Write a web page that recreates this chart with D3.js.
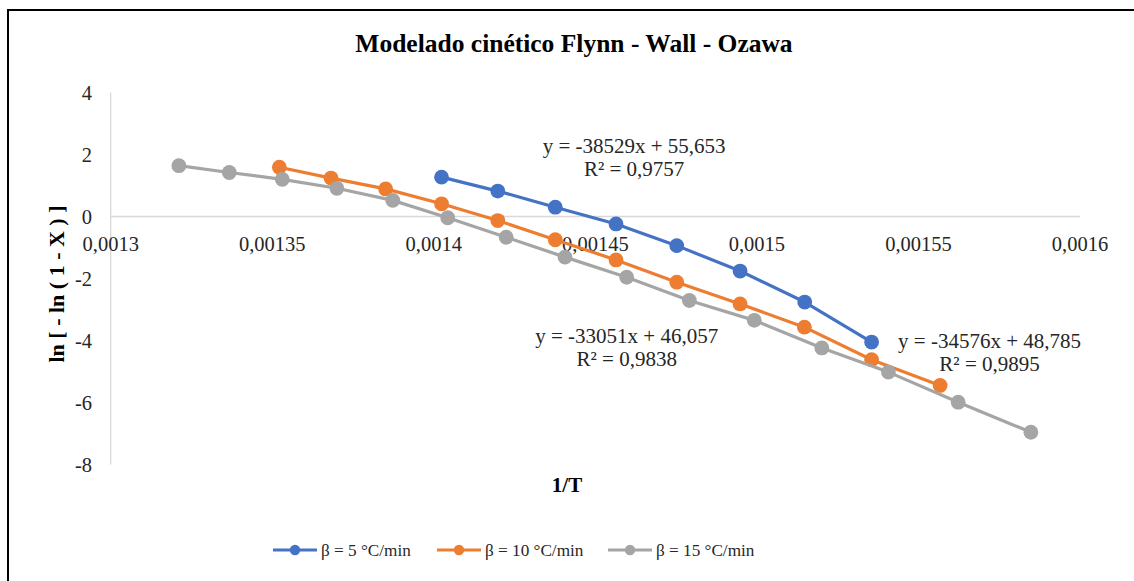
<!DOCTYPE html>
<html>
<head>
<meta charset="utf-8">
<script src="https://cdn.jsdelivr.net/npm/d3@7"></script>
<style>
  body { margin: 0; background: #fff; }
  svg text { font-family: "Liberation Serif", "Times New Roman", serif; }
</style>
</head>
<body>
<svg id="chart" width="1134" height="581"></svg>
<script>
// values
var seriesNames = ["β = 5 °C/min", "β = 10 °C/min", "β = 15 °C/min"];
var seriesColors = ["#4472C4", "#ED7D31", "#A5A5A5"];

var xB5 = [0.0014024, 0.0014198, 0.0014376, 0.0014564, 0.0014752, 0.0014948, 0.0015148, 0.0015355];
var yB5 = [1.27, 0.82, 0.30, -0.24, -0.94, -1.76, -2.76, -4.05];

var xB10 = [0.0013522, 0.0013682, 0.0013851, 0.0014024, 0.0014198, 0.0014376, 0.0014564, 0.0014752, 0.0014948, 0.0015147, 0.0015355, 0.0015567];
var yB10 = [1.59, 1.24, 0.89, 0.41, -0.13, -0.75, -1.40, -2.12, -2.82, -3.57, -4.62, -5.45];

var xB15 = [0.0013211, 0.0013367, 0.0013531, 0.0013700, 0.0013873, 0.0014043, 0.0014224, 0.0014406, 0.0014597, 0.0014791, 0.0014992, 0.0015201, 0.0015407, 0.0015623, 0.0015848];
var yB15 = [1.64, 1.42, 1.20, 0.91, 0.52, -0.04, -0.67, -1.31, -1.96, -2.71, -3.35, -4.24, -5.02, -5.99, -6.96];

var xTicks = [0.0013, 0.00135, 0.0014, 0.00145, 0.0015, 0.00155, 0.0016];
var xTickLabels = ["0,0013", "0,00135", "0,0014", "0,00145", "0,0015", "0,00155", "0,0016"];
var yTicks = [4, 2, 0, -2, -4, -6, -8];

// trendline labels, anchored in data units
var eqText = ["y = -38529x + 55,653", "y = -33051x + 46,057", "y = -34576x + 48,785"];
var r2Text = ["R² = 0,9757", "R² = 0,9838", "R² = 0,9895"];
var eqX = [0.0014620, 0.0014597, 0.0015720];
var eqY = [2.05, -4.08, -4.24];

var svg = d3.select("#chart");

// frame of the pasted chart
svg.append("rect")
    .attr("x", 8)
    .attr("y", 10)
    .attr("width", 1200)
    .attr("height", 700)
    .attr("fill", "none")
    .attr("stroke", "black")
    .attr("stroke-width", 2);

var x = d3.scaleLinear()
    .domain([0.0013, 0.0016])
    .range([110.7, 1080]);

var y = d3.scaleLinear()
    .domain([-8, 4])
    .range([464.5, 92.5]);

svg.append("text")
    .attr("x", 574)
    .attr("y", 52)
    .attr("text-anchor", "middle")
    .attr("font-size", 25.5)
    .attr("font-weight", "bold")
    .text("Modelado cinético Flynn - Wall - Ozawa");

// axis lines
svg.append("line")
    .attr("x1", x(0.0013)).attr("x2", x(0.0013))
    .attr("y1", y(4)).attr("y2", y(-8))
    .attr("stroke", "#D9D9D9")
    .attr("stroke-width", 1.3);

svg.append("line")
    .attr("x1", x(0.0013)).attr("x2", x(0.0016))
    .attr("y1", y(0)).attr("y2", y(0))
    .attr("stroke", "#D9D9D9")
    .attr("stroke-width", 1.3);

svg.append("g")
    .selectAll("text")
    .data(yTicks)
    .enter()
    .append("text")
    .attr("x", 92)
    .attr("y", function(d) { return y(d); })
    .attr("dy", "0.35em")
    .attr("text-anchor", "end")
    .attr("font-size", 20.5)
    .attr("fill", "#262626")
    .text(function(d) { return d; });

svg.append("g")
    .selectAll("text")
    .data(xTicks)
    .enter()
    .append("text")
    .attr("x", function(d) { return x(d); })
    .attr("y", y(0) + 34.5)
    .attr("text-anchor", "middle")
    .attr("font-size", 20.5)
    .attr("fill", "#262626")
    .text(function(d, i) { return xTickLabels[i]; });

svg.append("text")
    .attr("x", 567)
    .attr("y", 492)
    .attr("text-anchor", "middle")
    .attr("font-size", 21)
    .attr("font-weight", "bold")
    .text("1/T");

svg.append("text")
    .attr("transform", "translate(64,284) rotate(-90)")
    .attr("text-anchor", "middle")
    .attr("font-size", 22)
    .attr("font-weight", "bold")
    .text("ln [ - ln ( 1 - X ) ]");

// series
var series = [
    { xs: xB5, ys: yB5 },
    { xs: xB10, ys: yB10 },
    { xs: xB15, ys: yB15 }
];

var line = d3.line()
    .x(function(d) { return x(d[0]); })
    .y(function(d) { return y(d[1]); });

series.forEach(function(s, k) {
    var pts = s.xs.map(function(v, i) { return [v, s.ys[i]]; });
    var g = svg.append("g");
    g.append("path")
        .datum(pts)
        .attr("d", line)
        .attr("fill", "none")
        .attr("stroke", seriesColors[k])
        .attr("stroke-width", 3.2)
        .attr("stroke-linejoin", "round");
    g.selectAll("circle")
        .data(pts)
        .enter()
        .append("circle")
        .attr("cx", function(d) { return x(d[0]); })
        .attr("cy", function(d) { return y(d[1]); })
        .attr("r", 7.4)
        .attr("fill", seriesColors[k]);
});

// equation labels
var eq = svg.append("g")
    .selectAll("text")
    .data(eqText)
    .enter()
    .append("text")
    .attr("text-anchor", "middle")
    .attr("font-size", 21)
    .attr("fill", "#262626");

eq.append("tspan")
    .attr("x", function(d, i) { return x(eqX[i]); })
    .attr("y", function(d, i) { return y(eqY[i]); })
    .text(function(d) { return d; });

eq.append("tspan")
    .attr("x", function(d, i) { return x(eqX[i]); })
    .attr("y", function(d, i) { return y(eqY[i]) + 23.5; })
    .text(function(d, i) { return r2Text[i]; });

// legend
var legX = [273, 437, 608];
var leg = svg.append("g")
    .selectAll("g")
    .data(seriesNames)
    .enter()
    .append("g")
    .attr("transform", function(d, i) { return "translate(" + legX[i] + ",550)"; });

leg.append("line")
    .attr("x1", 0).attr("x2", 44)
    .attr("y1", 0).attr("y2", 0)
    .attr("stroke", function(d, i) { return seriesColors[i]; })
    .attr("stroke-width", 3.2);

leg.append("circle")
    .attr("cx", 22)
    .attr("cy", 0)
    .attr("r", 5.2)
    .attr("fill", function(d, i) { return seriesColors[i]; });

leg.append("text")
    .attr("x", 48)
    .attr("y", 0)
    .attr("dy", "0.33em")
    .attr("font-size", 17.2)
    .attr("fill", "#262626")
    .text(function(d) { return d; });
</script>
</body>
</html>
